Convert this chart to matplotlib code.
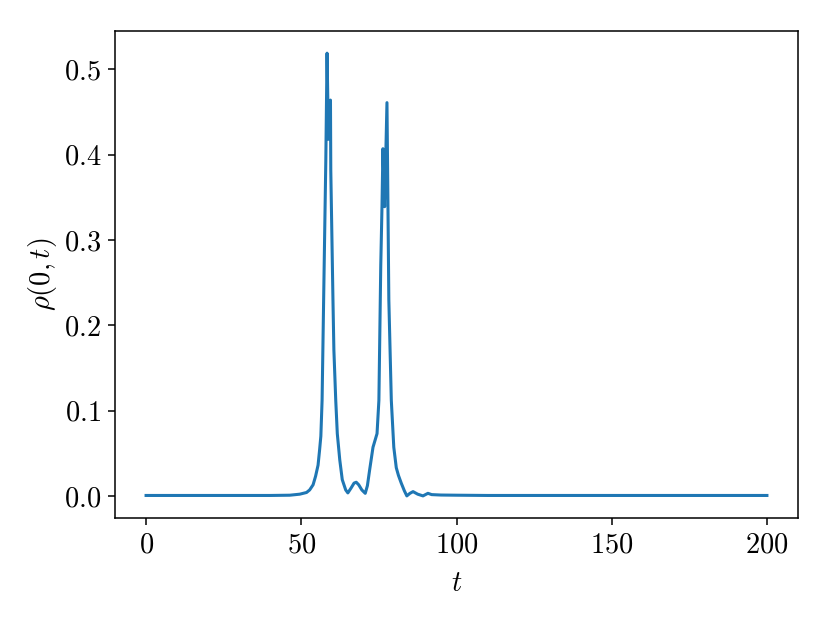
import matplotlib
matplotlib.use("Agg")
import matplotlib.pyplot as plt

plt.rcParams['font.family'] = 'serif'
plt.rcParams['font.serif'] = ['cmr10']
plt.rcParams['mathtext.fontset'] = 'cm'
plt.rcParams['axes.formatter.use_mathtext'] = True
plt.rcParams['font.size'] = 20.5

# values
t = [0, 10, 20, 30, 40, 46.3, 49.5, 51.7, 52.7, 53.8, 54.6, 55.4, 55.9, 56.3,
     56.7, 57.2, 57.9, 58.3, 58.75, 59.4, 59.5, 60.2, 60.5, 61.1, 61.6, 62.4,
     63.2, 64.3, 65.0, 66.0, 67.0, 67.7, 68.5, 69.5, 70.6, 71.3, 72.0, 73.1,
     74.4, 75.0, 75.6, 76.0, 76.3, 76.85, 77.6, 77.9, 78.2, 79.0, 79.8, 80.6,
     81.3, 82.2, 83.2, 84.0, 85.0, 86.0, 87.5, 89.2, 90.8, 92.0,
     95, 100, 110, 120, 140, 160, 180, 200]
rho = [0.0005, 0.0005, 0.0005, 0.0005, 0.0005, 0.0008, 0.002, 0.004, 0.007,
       0.013, 0.023, 0.036, 0.054, 0.07, 0.112, 0.23, 0.393, 0.519, 0.418,
       0.464, 0.382, 0.23, 0.171, 0.112, 0.073, 0.042, 0.019, 0.007, 0.0035,
       0.009, 0.015, 0.016, 0.013, 0.007, 0.003, 0.012, 0.03, 0.057, 0.073,
       0.112, 0.27, 0.34, 0.407, 0.339, 0.461, 0.347, 0.23, 0.112, 0.057,
       0.033, 0.024, 0.015, 0.006, 0.0, 0.003, 0.005, 0.002, 0.0, 0.003,
       0.0015, 0.001, 0.0008, 0.0005, 0.0005, 0.0005, 0.0005, 0.0005, 0.0005]

fig = plt.figure(figsize=(8.3, 6.23), dpi=100)
ax = fig.add_axes([0.1386, 0.1685, 0.8228, 0.7817])
ax.plot(t, rho, color='C0', linewidth=2.2)
ax.set_xlabel(r"$t$", labelpad=9)
ax.set_ylabel(r"$\rho(0,t)$", labelpad=3)
ax.set_yticks([0.0, 0.1, 0.2, 0.3, 0.4, 0.5])
ax.tick_params(length=5, width=1.1, pad=5)
for s in ax.spines.values():
    s.set_linewidth(1.1)
fig.savefig("out.png", dpi=100)
